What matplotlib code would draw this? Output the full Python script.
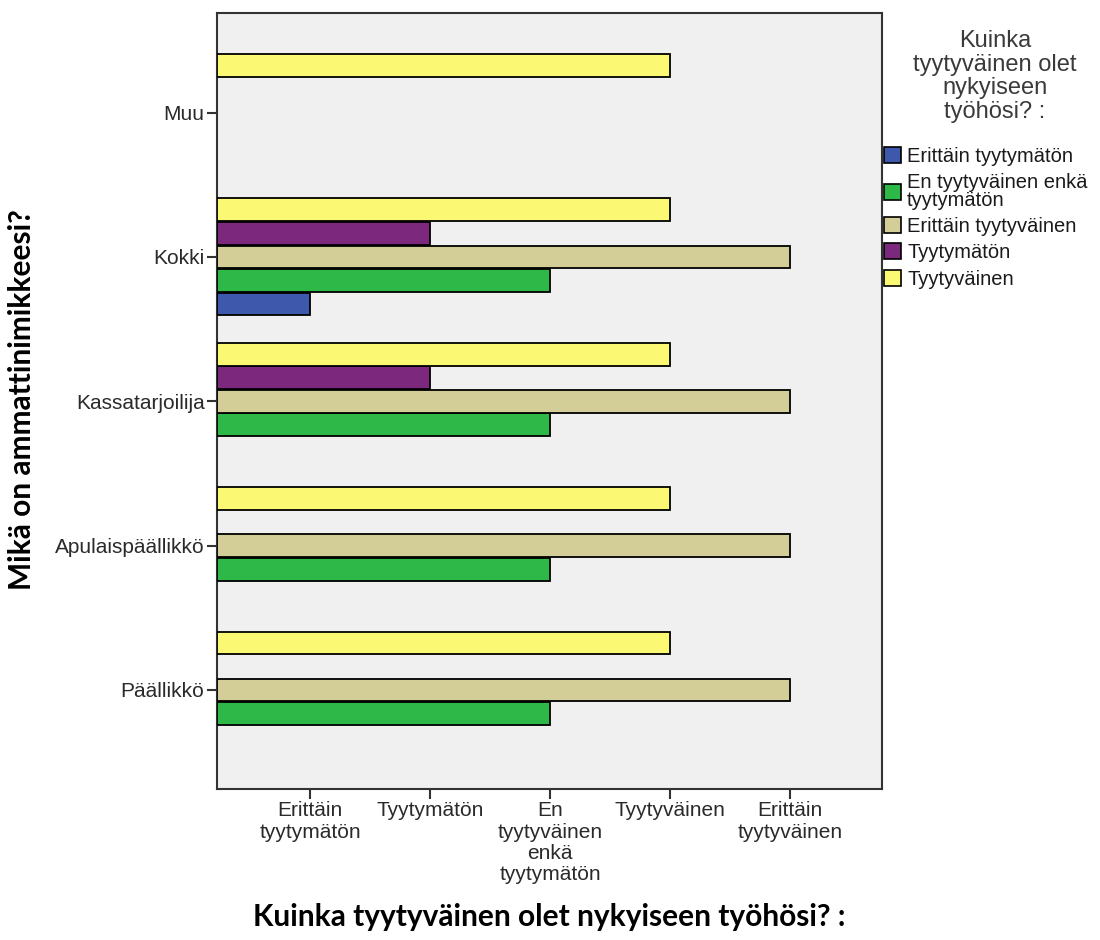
import matplotlib
matplotlib.use("Agg")
import matplotlib.pyplot as plt
from matplotlib.patches import Patch

# Occupational titles (y axis, bottom to top)
occupations = ["Päällikkö", "Apulaispäällikkö", "Kassatarjoilija", "Kokki", "Muu"]

# Satisfaction scale (x axis)
scale_labels = ["Erittäin\ntyytymätön", "Tyytymätön", "En\ntyytyväinen\nenkä\ntyytymätön",
                "Tyytyväinen", "Erittäin\ntyytyväinen"]
scale_values = [1, 2, 3, 4, 5]

# Series (legend order) with bar value per occupation; None = no bar
series_names = ["Erittäin tyytymätön", "En tyytyväinen enkä\ntyytymätön",
                "Erittäin tyytyväinen", "Tyytymätön", "Tyytyväinen"]
erittain_tyytymaton = [None, None, None, 1, None]
en_kumpikaan = [3, 3, 3, 3, None]
erittain_tyytyvainen = [5, 5, 5, 5, None]
tyytymaton = [None, None, 2, 2, None]
tyytyvainen = [4, 4, 4, 4, 4]
series_values = [erittain_tyytymaton, en_kumpikaan, erittain_tyytyvainen,
                 tyytymaton, tyytyvainen]
series_colors = ["#3E58AC", "#2EB848", "#D3CE97", "#7C287D", "#FBF873"]
# vertical slot of each series within a category (tan bar sits on the tick)
series_slots = [-2, -1, 0, 1, 2]

legend_title = "Kuinka\ntyytyväinen olet\nnykyiseen\ntyöhösi? :"

W, H = 1100, 940
fig = plt.figure(figsize=(W / 100, H / 100), dpi=100)
ax = fig.add_axes([217 / W, 1 - 789 / H, (882 - 217) / W, (789 - 13) / H])
ax.set_facecolor("#F0F0F0")

x0, x1 = 0.225, 5.767
slot = 0.163
bar_h = 0.158
for vals, color, s in zip(series_values, series_colors, series_slots):
    for i, v in enumerate(vals):
        if v is None:
            continue
        ax.barh(i + s * slot, v - x0, left=x0, height=bar_h, color=color,
                edgecolor="black", linewidth=1.3, zorder=3)

ax.set_xlim(x0, x1)
ax.set_ylim(-0.686, 4.69)

tick_font = dict(family="Liberation Sans", size=15, color="#2a2a2a")
ax.set_xticks(scale_values)
ax.set_xticklabels(scale_labels, fontdict=tick_font, linespacing=1.14)
ax.set_yticks(range(len(occupations)))
ax.set_yticklabels(occupations, fontdict=tick_font)
ax.tick_params(axis="both", length=7, width=1.5, color="#333333", pad=2)

for sp in ax.spines.values():
    sp.set_linewidth(1.5)
    sp.set_color("#333333")

fig.text(549.5 / W, 1 - 917 / H, "Kuinka tyytyväinen olet nykyiseen työhösi? :",
         family="Lato", fontweight="bold", fontsize=21.5, ha="center", va="center")
fig.text(22 / W, 1 - 400 / H, "Mikä on ammattinimikkeesi?", rotation=90,
         family="Lato", fontweight="bold", fontsize=21.5, ha="center", va="center")

# legend title, centred over the legend entries
fig.text(995 / W, 1 - 30 / H, legend_title, family="Liberation Sans", fontsize=17,
         color="#3a3a3a", ha="center", va="top", multialignment="center",
         linespacing=1.1)

handles = [Patch(facecolor=c, edgecolor="black", linewidth=1.2)
           for c in series_colors]
leg = fig.legend(handles, series_names, loc="upper left",
                 bbox_to_anchor=(884 / W, 1 - 147 / H), frameon=False,
                 prop=dict(family="Liberation Sans", size=14.5),
                 handlelength=0.85, handleheight=0.85, handletextpad=0.3,
                 labelspacing=0.36, borderpad=0, borderaxespad=0)
for t in leg.get_texts():
    t.set_linespacing(0.9)
    t.set_color("#1a1a1a")

fig.savefig("out.png", dpi=100, facecolor="white")
